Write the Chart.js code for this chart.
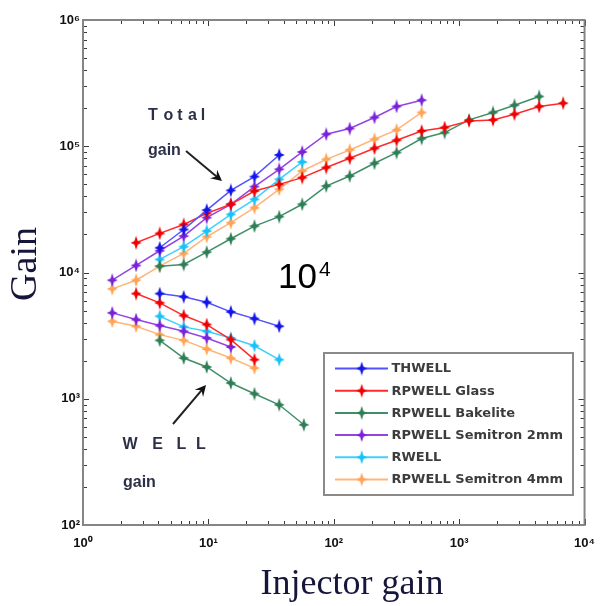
<!DOCTYPE html>
<html>
<head>
<meta charset="utf-8">
<script src="https://cdn.jsdelivr.net/npm/chart.js@4.4.1/dist/chart.umd.min.js"></script>
<style>
  html, body { margin: 0; padding: 0; background: #fff; }
  canvas { display: block; }
</style>
</head>
<body>
<canvas id="c" width="606" height="606"></canvas>
<script>
// ---- data -------------------------------------------------------------
const detectors = ['THWELL', 'RPWELL Glass', 'RPWELL Bakelite', 'RPWELL Semitron 2mm', 'RWELL', 'RPWELL Semitron 4mm'];

// THWELL
const thwellInj = [4.09, 6.36, 9.7, 15.1, 23.3, 36.7];
const thwellTotal = [15700, 21900, 31200, 44700, 57500, 85300];
const thwellWell = [6810, 6420, 5810, 4880, 4310, 3750];

// RPWELL Glass
const glassInjTotal = [2.65, 4.09, 6.36, 9.7, 15.1, 23.3, 36.7, 56, 87, 134, 211, 317, 502, 766, 1199, 1863, 2760, 4343, 6748];
const glassTotal = [17200, 20400, 24000, 29400, 34700, 44200, 49900, 56400, 67800, 80300, 96400, 111500, 132200, 140700, 158800, 161700, 179500, 206600, 219500];
const glassInjWell = [2.65, 4.09, 6.36, 9.7, 15.1, 23.3];
const glassWell = [6810, 5750, 4560, 3870, 2940, 2040];

// RPWELL Bakelite
const bakeliteInjTotal = [4.09, 6.36, 9.7, 15.1, 23.3, 36.7, 56, 87, 134, 211, 317, 502, 766, 1199, 1863, 2760, 4343];
const bakeliteTotal = [11220, 11570, 14490, 18510, 23300, 27700, 34700, 48400, 58100, 73300, 89100, 115100, 128400, 161700, 185100, 211500, 248000];
const bakeliteInjWell = [4.09, 6.36, 9.7, 15.1, 23.3, 36.7, 57.7];
const bakeliteWell = [2900, 2100, 1785, 1332, 1096, 896, 622];

// RPWELL Semitron 2mm
const semi2InjTotal = [1.71, 2.65, 4.09, 6.36, 9.7, 15.1, 23.3, 36.7, 56, 87, 134, 211, 317, 502];
const semi2Total = [8690, 11370, 14870, 19420, 27200, 34700, 47900, 65700, 90100, 124500, 138200, 169000, 206600, 231800];
const semi2InjWell = [1.71, 2.65, 4.09, 6.36, 9.7, 15.1];
const semi2Well = [4790, 4240, 3800, 3420, 3030, 2570];

// RWELL
const rwellInjTotal = [4.09, 6.36, 9.7, 15.1, 23.3, 36.7, 56];
const rwellTotal = [12690, 16000, 21300, 28850, 37960, 54700, 75100];
const rwellInjWell = [4.09, 6.36, 9.7, 15.1, 23.3, 36.7];
const rwellWell = [4500, 3710, 3420, 3030, 2630, 2040];

// RPWELL Semitron 4mm
const semi4InjTotal = [1.71, 2.65, 4.09, 6.36, 9.7, 15.1, 23.3, 36.7, 56, 87, 134, 211, 317, 502];
const semi4Total = [7420, 8690, 11220, 14150, 19200, 24800, 32600, 45600, 63700, 78800, 93500, 113700, 134700, 185100];
const semi4InjWell = [1.71, 2.65, 4.09, 6.36, 9.7, 15.1, 23.3];
const semi4Well = [4110, 3750, 3220, 2900, 2480, 2100, 1750];

// axis ticks
const xTickValues = [1, 10, 100, 1000, 10000];
const xTickLabels = ['10\u2070', '10\u00b9', '10\u00b2', '10\u00b3', '10\u2074'];
const yTickValues = [100, 1000, 10000, 100000, 1000000];
const yTickLabels = ['10\u00b2', '10\u00b3', '10\u2074', '10\u2075', '10\u2076'];

// ---- styling ----------------------------------------------------------
const lineColors = ['#5252ff', '#ff2a2a', '#3f8f69', '#9444e6', '#3fd0ff', '#ffb57a'];
const markerColors = ['#1414e6', '#f00000', '#2e7d55', '#7a22d8', '#18c2f6', '#ffa455'];

function starMarker(color) {
  const c = document.createElement('canvas');
  c.width = 12; c.height = 14;
  const g = c.getContext('2d');
  const cx = 6, cy = 7;
  g.fillStyle = color;
  g.beginPath();
  g.moveTo(cx, cy - 7);
  g.lineTo(cx + 1.7, cy - 1.7);
  g.lineTo(cx + 5.5, cy);
  g.lineTo(cx + 1.7, cy + 1.7);
  g.lineTo(cx, cy + 7);
  g.lineTo(cx - 1.7, cy + 1.7);
  g.lineTo(cx - 5.5, cy);
  g.lineTo(cx - 1.7, cy - 1.7);
  g.closePath();
  g.fill();
  return c;
}
const markers = markerColors.map(starMarker);

const series = [
  [thwellInj, thwellTotal, thwellInj, thwellWell],
  [glassInjTotal, glassTotal, glassInjWell, glassWell],
  [bakeliteInjTotal, bakeliteTotal, bakeliteInjWell, bakeliteWell],
  [semi2InjTotal, semi2Total, semi2InjWell, semi2Well],
  [rwellInjTotal, rwellTotal, rwellInjWell, rwellWell],
  [semi4InjTotal, semi4Total, semi4InjWell, semi4Well]
];

const datasets = [];
series.forEach(([xt, yt, xw, yw], i) => {
  const common = {
    borderColor: lineColors[i],
    backgroundColor: markerColors[i],
    borderWidth: 1.5,
    pointStyle: markers[i],
    pointRadius: 5,
    tension: 0,
    fill: false
  };
  datasets.push(Object.assign({ label: detectors[i] + ' total', data: xt.map((x, k) => ({ x, y: yt[k] })) }, common));
  datasets.push(Object.assign({ label: detectors[i] + ' WELL', data: xw.map((x, k) => ({ x, y: yw[k] })) }, common));
});

// ---- decorations: frame, inward ticks, legend, notes, titles ----------
function minorValues(min, max) {
  const out = [];
  for (let d = Math.floor(Math.log10(min)); d <= Math.ceil(Math.log10(max)); d++) {
    for (let m = 1; m < 10; m++) {
      const v = m * Math.pow(10, d);
      if (v >= min * 0.999 && v <= max * 1.001) out.push({ v, major: m === 1 });
    }
  }
  return out;
}

function arrow(ctx, x1, y1, x2, y2) {
  const a = Math.atan2(y2 - y1, x2 - x1);
  ctx.beginPath();
  ctx.moveTo(x1, y1);
  ctx.lineTo(x2 - 6 * Math.cos(a), y2 - 6 * Math.sin(a));
  ctx.stroke();
  ctx.beginPath();
  ctx.moveTo(x2, y2);
  ctx.lineTo(x2 - 11 * Math.cos(a) + 5.5 * Math.sin(a), y2 - 11 * Math.sin(a) - 5.5 * Math.cos(a));
  ctx.lineTo(x2 - 7 * Math.cos(a), y2 - 7 * Math.sin(a));
  ctx.lineTo(x2 - 11 * Math.cos(a) - 5.5 * Math.sin(a), y2 - 11 * Math.sin(a) + 5.5 * Math.cos(a));
  ctx.closePath();
  ctx.fill();
}

const decor = {
  id: 'decor',
  beforeDatasetsDraw(chart) {
    const { ctx, chartArea: a, scales: { x, y } } = chart;
    ctx.save();
    ctx.strokeStyle = '#3a3a3a';
    ctx.lineWidth = 1;
    minorValues(x.min, x.max).forEach(t => {
      const px = Math.round(x.getPixelForValue(t.v)) + 0.5;
      const len = t.major ? 6 : 4;
      ctx.beginPath();
      ctx.moveTo(px, a.bottom); ctx.lineTo(px, a.bottom - len);
      ctx.moveTo(px, a.top); ctx.lineTo(px, a.top + len);
      ctx.stroke();
    });
    minorValues(y.min, y.max).forEach(t => {
      const py = Math.round(y.getPixelForValue(t.v)) + 0.5;
      const len = t.major ? 6 : 4;
      ctx.beginPath();
      ctx.moveTo(a.left, py); ctx.lineTo(a.left + len, py);
      ctx.moveTo(a.right, py); ctx.lineTo(a.right - len, py);
      ctx.stroke();
    });
    ctx.strokeStyle = '#858585';
    ctx.lineWidth = 2;
    ctx.strokeRect(a.left, a.top, a.right - a.left, a.bottom - a.top);
    ctx.restore();
  },
  afterDraw(chart) {
    const ctx = chart.ctx;
    ctx.save();

    // legend box
    const lx = 324, ly = 353, lw = 249, lh = 142;
    ctx.fillStyle = '#fff';
    ctx.fillRect(lx, ly, lw, lh);
    ctx.strokeStyle = '#8a8a8a';
    ctx.lineWidth = 2;
    ctx.strokeRect(lx, ly, lw, lh);
    detectors.forEach((name, i) => {
      const ry = 368.5 + i * 22.2;
      ctx.strokeStyle = lineColors[i];
      ctx.lineWidth = 2;
      ctx.beginPath(); ctx.moveTo(335, ry); ctx.lineTo(388, ry); ctx.stroke();
      ctx.drawImage(markers[i], 361.7 - 6, ry - 7);
      ctx.fillStyle = '#3c3c3c';
      ctx.font = 'bold 13px "DejaVu Sans"';
      ctx.textAlign = 'left';
      ctx.textBaseline = 'middle';
      ctx.fillText(name, 391.5, ry + 0.5);
    });

    // notes
    ctx.fillStyle = '#2c3046';
    ctx.textBaseline = 'alphabetic';
    ctx.textAlign = 'center';
    ctx.font = 'bold 16px "Liberation Sans"';
    [['T', 153], ['o', 168.5], ['t', 180], ['a', 192.5], ['l', 203]].forEach(([ch, cx]) => ctx.fillText(ch, cx, 120));
    [['W', 130], ['E', 157.5], ['L', 181.5], ['L', 201]].forEach(([ch, cx]) => ctx.fillText(ch, cx, 449));
    ctx.textAlign = 'left';
    ctx.fillText('gain', 148, 155);
    ctx.fillText('gain', 123, 487);

    ctx.strokeStyle = '#222';
    ctx.fillStyle = '#111';
    ctx.lineWidth = 2;
    arrow(ctx, 186, 151, 222, 181);
    arrow(ctx, 173, 424, 206, 385);

    // big exponent note
    ctx.fillStyle = '#000';
    ctx.font = '35px "Liberation Sans"';
    ctx.fillText('10', 278, 288);
    ctx.font = '21px "Liberation Sans"';
    ctx.fillText('4', 319, 276);

    // axis titles
    ctx.fillStyle = '#15163a';
    ctx.font = '36px "Liberation Serif"';
    ctx.textAlign = 'center';
    ctx.fillText('Injector gain', 352, 594);
    ctx.save();
    ctx.translate(36, 264);
    ctx.rotate(-Math.PI / 2);
    ctx.font = '38px "Liberation Serif"';
    ctx.fillText('Gain', 0, 0);
    ctx.restore();

    ctx.restore();
  }
};

// ---- chart ------------------------------------------------------------
new Chart(document.getElementById('c'), {
  type: 'line',
  data: { datasets },
  plugins: [decor],
  options: {
    responsive: false,
    animation: false,
    devicePixelRatio: 1,
    layout: { padding: { left: 0, top: 20, right: 15, bottom: 0 } },
    plugins: { legend: { display: false }, tooltip: { enabled: false } },
    scales: {
      x: {
        type: 'logarithmic',
        position: 'bottom',
        min: 1,
        max: 10000,
        grid: { display: false, drawTicks: false },
        border: { display: false },
        afterBuildTicks: s => { s.ticks = xTickValues.map(v => ({ value: v, major: true })); },
        afterFit: s => { s.height = 81; },
        ticks: {
          autoSkip: false,
          maxRotation: 0,
          padding: 11,
          color: '#111',
          font: { family: 'Liberation Sans', size: 13, weight: 'bold' },
          callback: (v) => xTickLabels[xTickValues.indexOf(v)] ?? ''
        }
      },
      y: {
        type: 'logarithmic',
        position: 'left',
        min: 100,
        max: 1000000,
        grid: { display: false, drawTicks: false },
        border: { display: false },
        afterBuildTicks: s => { s.ticks = yTickValues.map(v => ({ value: v, major: true })); },
        afterFit: s => { s.width = 83; },
        ticks: {
          autoSkip: false,
          padding: 3,
          color: '#111',
          font: { family: 'Liberation Sans', size: 13, weight: 'bold' },
          callback: (v) => yTickLabels[yTickValues.indexOf(v)] ?? ''
        }
      }
    }
  }
});
</script>
</body>
</html>
